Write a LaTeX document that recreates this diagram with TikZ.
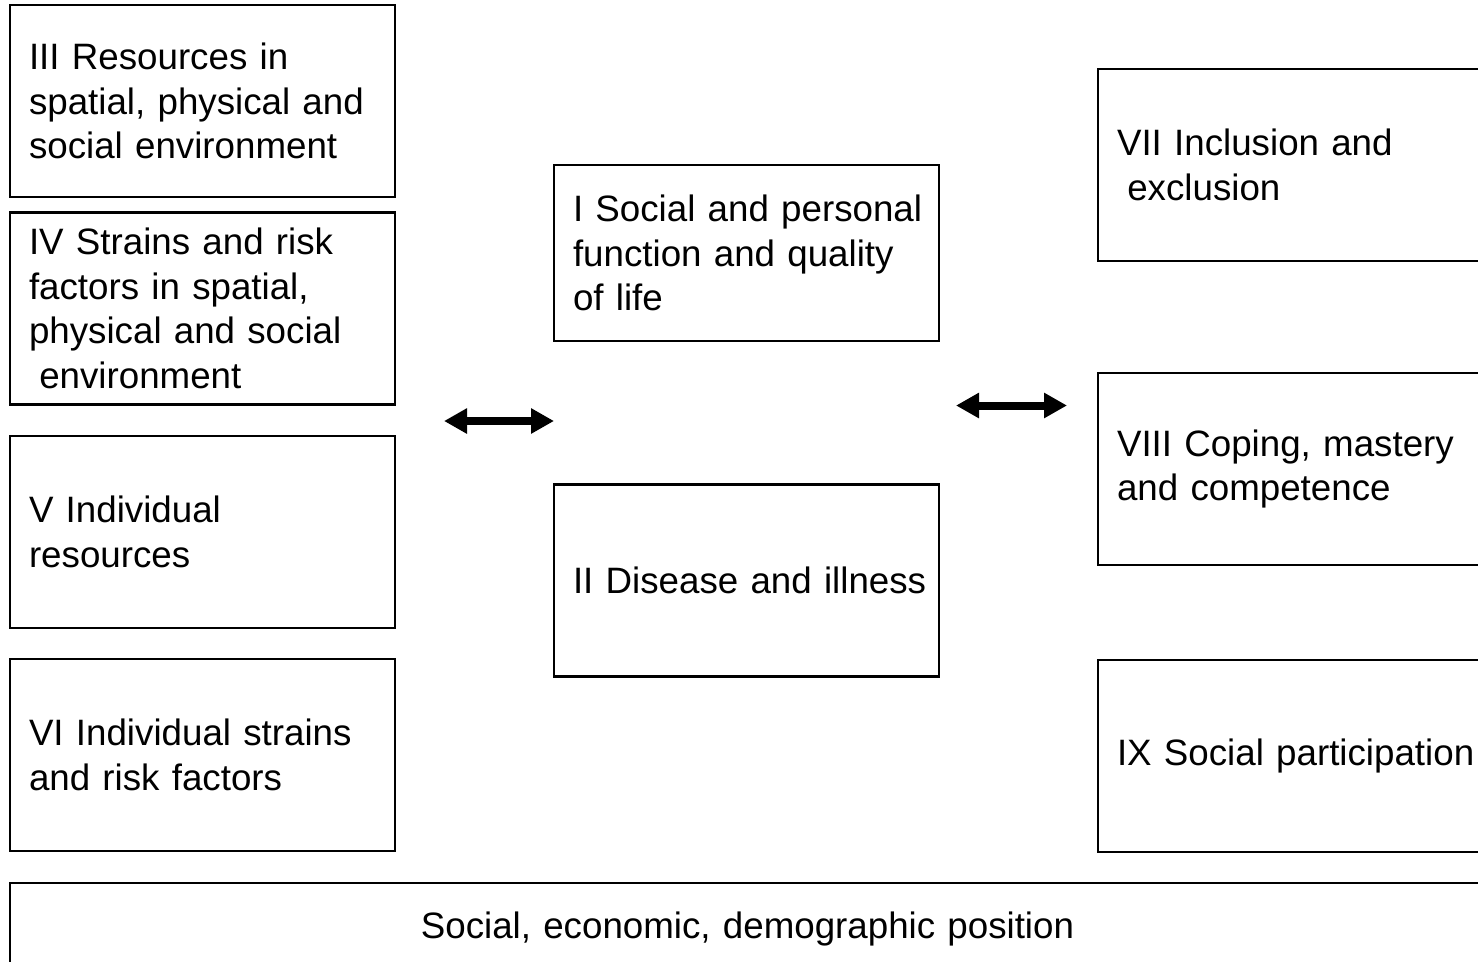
\documentclass[tikz,border=0pt]{standalone}
\usepackage{fontspec}
\setmainfont{Liberation Sans}
\usetikzlibrary{arrows.meta, positioning}
\tikzstyle{frame} = [rectangle, draw, line width = 0.045cm, outer sep = 0pt, inner xsep = 0.38cm, font = \fontsize{20.9pt}{25.32pt}\selectfont]
\tikzstyle{factor} = [frame, minimum width = 7.7cm, minimum height = 3.84cm, text width = 6.94cm, align = left, execute at begin node = {\rightskip=0pt plus 1fil minus 1cm}]
\tikzstyle{outcome} = [factor, minimum height = 3.52cm]
\tikzstyle{position} = [frame, minimum width = 29.5cm, minimum height = 1.84cm, text width = 28.74cm, align = center]
\tikzstyle{link} = [line width = 0.16cm, {Triangle[length=0.46cm, width=0.48cm]}-{Triangle[length=0.46cm, width=0.48cm]}]

\begin{document}
\begin{tikzpicture}[node distance = 1cm]
  \useasboundingbox (0,0) rectangle (29.56,-19.22);
  \clip (0,0) rectangle (29.56,-19.22);
  % left column
  \node (res) [factor] at (4.05,-2.02) {III Resources in\\spatial, physical and\\social environment};
  \node (strain) [factor, below = 0.31cm of res] {IV Strains and risk\\factors in spatial,\\physical and social\\\hspace*{0.28em}environment};
  \node (indres) [factor, below = 0.63cm of strain] {V Individual\\resources};
  \node (indrisk) [factor, below = 0.62cm of indres] {VI Individual strains\\and risk factors};
  % middle column
  \node (func) [outcome, right = 3.18cm of res, yshift = -3.04cm] {I Social and personal\\function and quality\\of life};
  \node (dis) [factor, below = 2.87cm of func] {II Disease and illness};
  % right column
  \node (incl) [factor, right = 3.18cm of func, yshift = 1.76cm] {VII Inclusion and\\\hspace*{0.28em}exclusion};
  \node (coping) [factor, below = 2.24cm of incl] {VIII Coping, mastery\\and competence};
  \node (part) [factor, below = 1.9cm of coping] {IX Social participation};
  % bottom
  \node (pos) [position, anchor = north west, below right = 0.64cm and 0cm of indrisk.south west] {Social, economic, demographic position};
  % arrows
  \coordinate (la) at (8.88,-8.42);
  \coordinate (lb) at (11.08,-8.42);
  \coordinate (ra) at (19.12,-8.11);
  \coordinate (rb) at (21.34,-8.11);
  \draw [link] (la) -- (lb);
  \draw [link] (ra) -- (rb);
\end{tikzpicture}
\end{document}
